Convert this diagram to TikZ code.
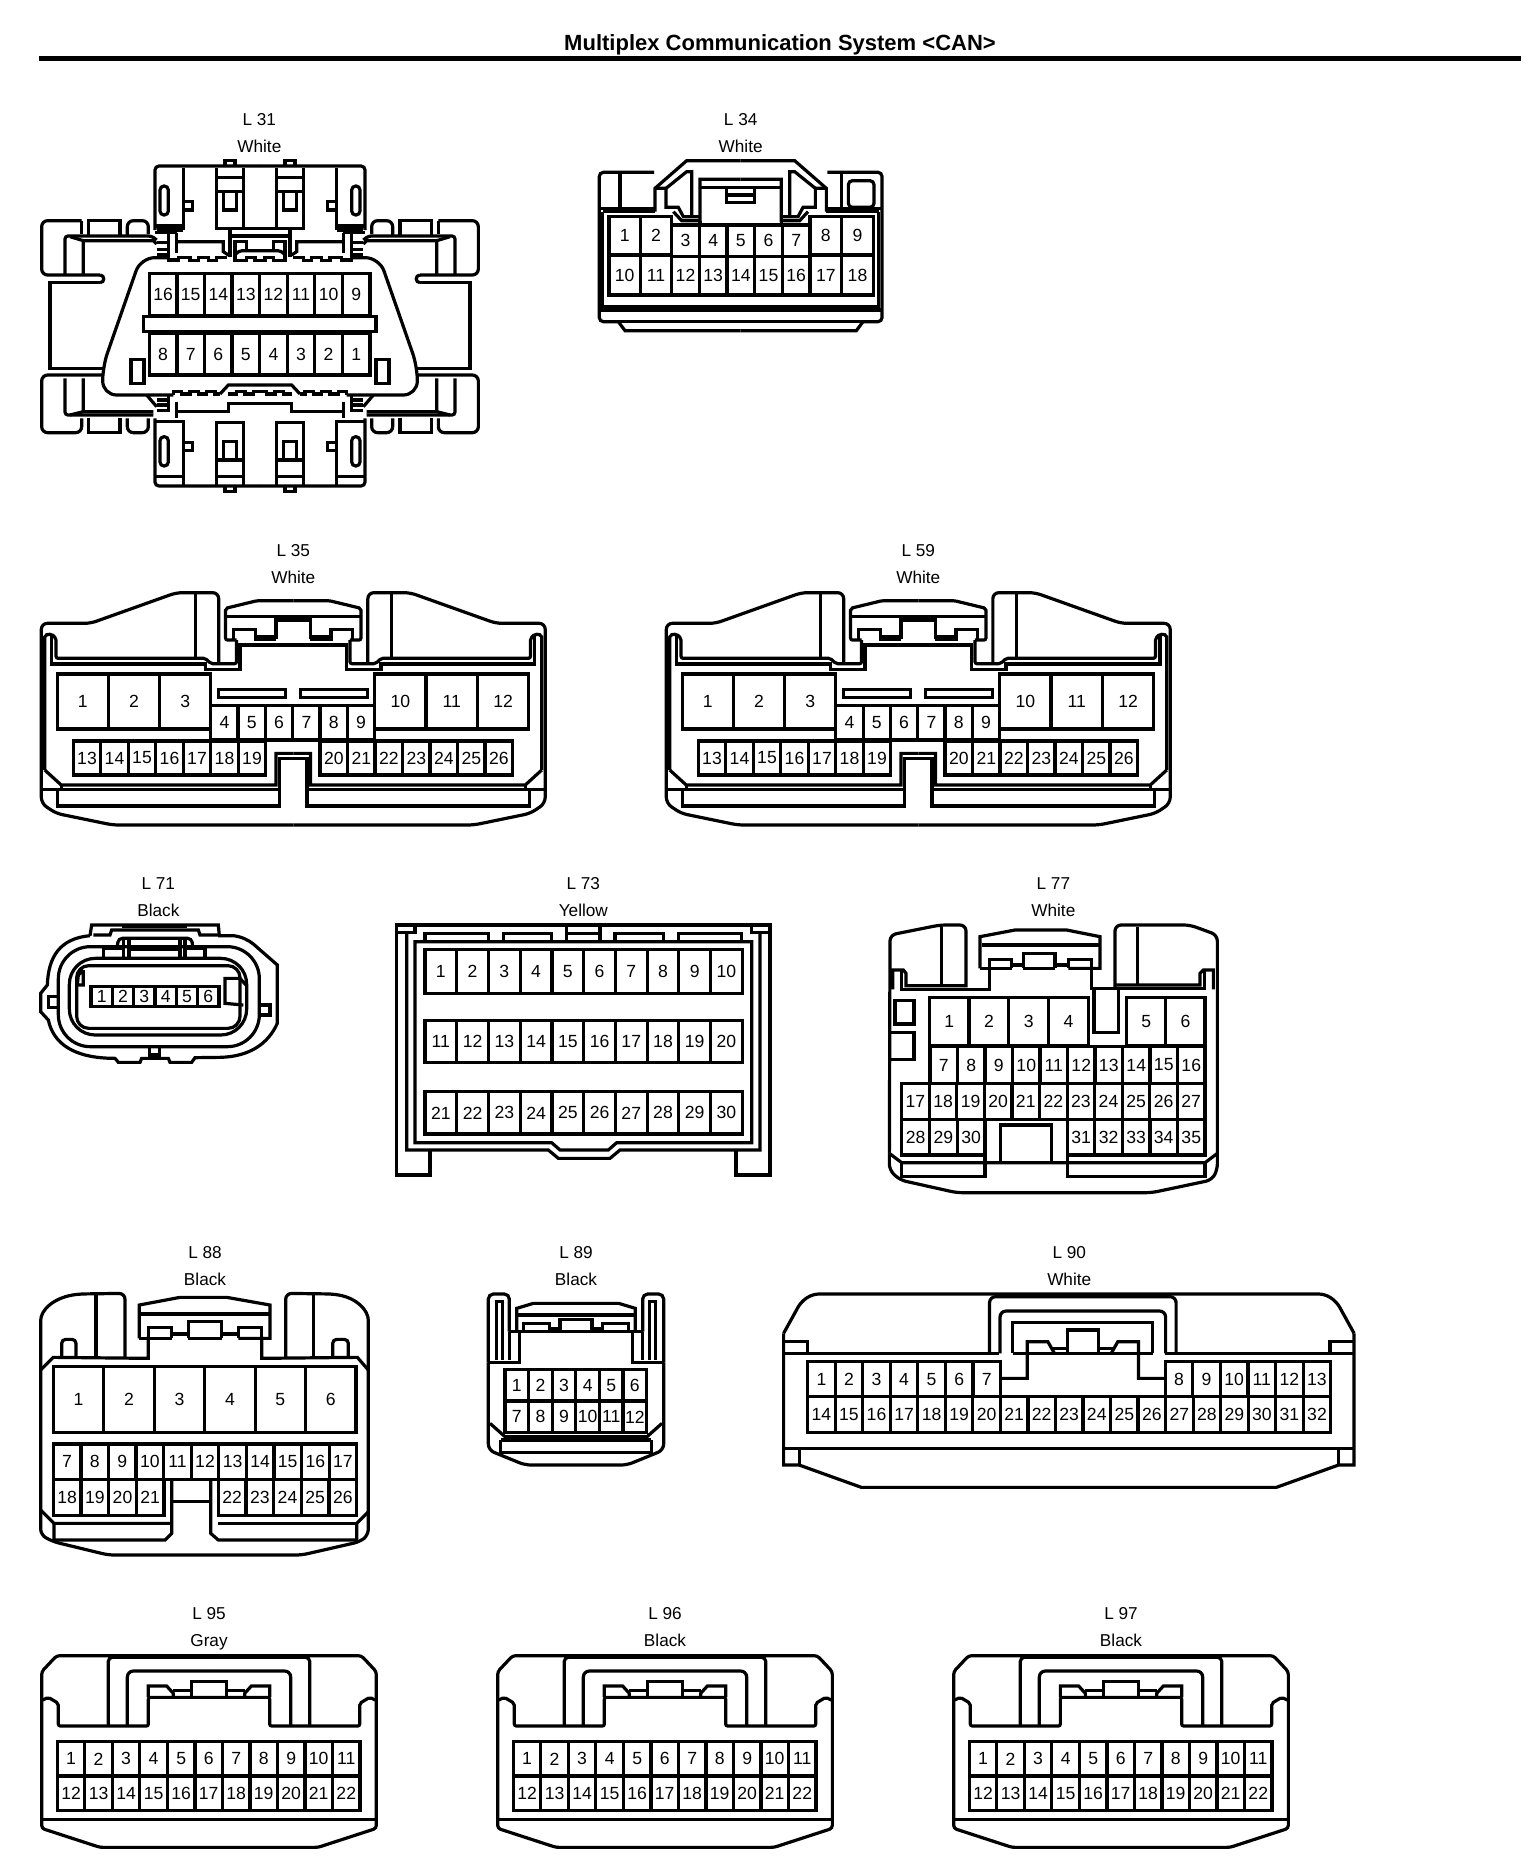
\documentclass[tikz,border=0pt]{standalone}
\usepackage{fontspec}
\setmainfont{Liberation Sans}
\def\zxu{0.166667}
\newenvironment{zoomat}[3][0.166667]{\def\zxu{#1}\begin{scope}[shift={(#2*0.5pt,-#3*0.5pt)},x=#1pt,y=-0.166667pt]}{\end{scope}}
\newcommand{\mirrored}[2]{#2\begin{scope}[x=-\zxu pt,xshift={#1*2*\zxu pt}]#2\end{scope}}
\tikzset{
  pinbox/.style={draw,line width=1.6pt,inner sep=0pt,outer sep=0pt,font=\fontsize{8.8}{10}\selectfont},
  lab/.style={inner sep=0pt,anchor=base,font=\fontsize{8.6}{10}\selectfont},
  ttl/.style={inner sep=0pt,anchor=base,font=\bfseries\fontsize{11}{12}\selectfont}
}
\newcommand{\pinrow}[7]{%
  \pgfmathtruncatemacro{\pnn}{abs(#7-#6)}%
  \pgfmathtruncatemacro{\psg}{#7>=#6 ? 1 : -1}%
  \pgfmathsetmacro{\pdx}{(#3-#2)/(\pnn+1)}%
  \foreach \pk in {0,...,\pnn}{%
    \pgfmathtruncatemacro{\plab}{#6+\psg*\pk}%
    \pgfmathsetmacro{\pcx}{#2+(\pk+0.5)*\pdx}%
    \node[pinbox,minimum width={\pdx*\zxu pt},minimum height={(#5-#4)*0.166667pt}] (#1\plab) at ({\pcx},{(#4+#5)/2}) {\plab};
  }}
\newcommand{\tag}[6]{\node[lab] (#1a) at (#3,#4+18) {#2};\node[lab] (#1b) at (#3,#5+18) {#6};}
% wide connector L35 / L59
\newcommand{\wideconn}[3]{%
\begin{zoomat}[0.17186]{#1}{540}
 \tag{#2}{#3}{795}{30}{112}{White}
 \mirrored{795}{
  \draw[rounded corners=3pt] (795,855) -- (270,855) -- (105,820) -- (62,790) -- (62,250) -- (205,250) -- (455,158) -- (578,158) -- (578,370);
  \draw (510,160) -- (510,352);
  \draw[rounded corners=1pt] (72,690) -- (72,285) -- (92,282) -- (105,295) -- (105,355) -- (540,355) -- (555,371) -- (630,371) -- (630,300);
  \draw (92,285) -- (92,372) -- (540,372) -- (540,388) -- (640,388) -- (640,315) -- (795,315);
  \draw[rounded corners=1pt] (630,300) -- (598,300) -- (598,205) -- (690,182) -- (795,182);
  \draw (598,230) -- (795,230);
  \draw (622,298) -- (622,268) -- (685,268) -- (685,298) -- (745,298);
  \draw (685,290) -- (745,290);
  \draw (745,298) -- (745,240) -- (795,240);
  \draw (72,690) -- (120,735) -- (745,735) -- (745,640) -- (795,640);
  \draw (62,748) -- (755,748);
  \draw (108,748) -- (108,798) -- (755,798) -- (755,655) -- (795,655);
  \draw (120,735) -- (120,748);
 }
 \draw (577,448) rectangle (772,472);
 \draw (817,448) rectangle (1010,472);
 \pinrow{#2-}{108}{555}{402}{567}{1}{3}
 \pinrow{#2-}{1032}{1480}{402}{567}{10}{12}
 \pinrow{#2-}{555}{1032}{497}{600}{4}{9}
 \pinrow{#2-}{155}{715}{603}{705}{13}{19}
 \pinrow{#2-}{873}{1433}{603}{705}{20}{26}
\end{zoomat}}
% L95 family
\newcommand{\flatconn}[4]{%
\begin{zoomat}{#1}{1600}
 \tag{#2}{#3}{567}{40}{122}{#4}
 \mirrored{567}{
  \draw[rounded corners=1.5pt] (567,742) -- (240,742) -- (65,685) -- (65,215) -- (110,167) -- (567,167);
  \draw[rounded corners=1pt] (68,300) -- (85,292) -- (115,310) -- (115,378) -- (385,378) -- (385,292) -- (567,292);
  \draw[rounded corners=2pt] (265,378) -- (265,172) -- (567,172);
  \draw[rounded corners=3pt] (322,378) -- (322,213) -- (567,213);
  \draw (385,292) -- (385,258) -- (440,258) -- (460,280) -- (460,292);
  \draw (460,272) -- (515,272);
  \draw (515,292) -- (515,245) -- (567,245);
  \draw (65,658) -- (567,658);
 }
 \pinrow{#2-}{112}{1020}{425}{528}{1}{11}
 \pinrow{#2-}{112}{1020}{528}{632}{12}{22}
\end{zoomat}}
\begin{document}
\begin{tikzpicture}[line width=1.6pt,line join=miter]
\useasboundingbox (0,0) rectangle (768pt,-937pt);
\node[ttl] (title) at (390pt,-25.35pt) {Multiplex Communication System <CAN>};
\coordinate (ruleL) at (19.3pt,-29.25pt);
\coordinate (ruleR) at (760.5pt,-29.25pt);
\draw[line width=2.5pt] (ruleL) -- (ruleR);

% ---------- L31
\begin{zoomat}{20}{90}
 \tag{L31}{L 31}{718}{87}{168}{White}
 \mirrored{720}{
  % top shell
  \draw[rounded corners=2pt] (405,420) -- (405,228) -- (720,228);
  \draw (615,228) -- (615,212) -- (645,212) -- (645,228);
  \draw (490,235) -- (490,420) (405,408) -- (490,408) (412,420) -- (490,420);
  \draw (590,235) -- (590,415) -- (720,415);
  \draw (670,235) -- (670,415);
  \draw (590,262) -- (670,262) (590,305) -- (670,305);
  \draw (610,305) -- (610,360) -- (650,360) -- (650,305);
  \draw[rounded corners=2pt] (420,288) rectangle (445,375);
  \draw (490,335) -- (518,335) -- (518,360) -- (490,360);
  % left pod top
  \draw[rounded corners=3pt] (185,392) -- (65,392) -- (65,555) -- (240,555);
  \draw (240,555) .. controls (255,555) and (255,578) .. (240,578);
  \draw (240,578) -- (90,578) -- (90,835) -- (248,835);
  \draw (185,392) -- (185,432);
  \draw (205,435) -- (205,392) -- (300,392) -- (300,435);
  \draw[rounded corners=3pt] (322,435) -- (322,392) -- (385,392) -- (385,432);
  \draw[rounded corners=1.5pt] (135,555) -- (135,438) -- (395,438) -- (410,450);
  \draw (190,555) -- (190,452) -- (400,452) -- (410,462);
  \draw (150,440) -- (190,452);
  % pod bottom
  \draw[rounded corners=3pt] (248,855) -- (65,855) -- (65,1028) -- (185,1028) -- (185,985);
  \draw (205,985) -- (205,1028) -- (300,1028) -- (300,985);
  \draw[rounded corners=3pt] (322,985) -- (322,1028) -- (385,1028) -- (385,985);
  \draw[rounded corners=1.5pt] (135,865) -- (135,975) -- (400,975);
  \draw (190,865) -- (190,965) -- (400,965) (150,975) -- (190,965);
  % top junction
  \draw (470,428) -- (470,490) (405,428) -- (470,428);
  \draw (410,458) -- (445,458) (410,478) -- (445,478) (410,495) -- (445,495);
  \draw (445,428) -- (445,510) -- (475,510) -- (475,503) -- (510,503) -- (510,512) -- (535,512) -- (535,503) -- (565,503) -- (565,512) -- (590,512) -- (590,503) -- (622,503);
  \draw (470,455) -- (610,455) -- (610,485) -- (625,495);
  \draw (630,415) -- (630,500);
  \draw (630,438) -- (720,438);
  \draw (645,515) -- (645,455) -- (680,455) -- (680,482);
  \draw[rounded corners=2pt] (645,495) -- (655,482) -- (720,482);
  \draw (645,512) -- (680,512) -- (680,503) -- (705,503) -- (705,512) -- (720,512);
  % housing
  \draw[rounded corners=7pt] (445,503) -- (362,503) -- (248,830) -- (248,915) -- (460,915);
  \draw (333,808) rectangle (372,880);
  % bottom crenellation
  \draw (460,915) -- (460,905) -- (485,905) -- (485,912) -- (510,912) -- (510,905) -- (535,905) -- (535,912) -- (560,912) -- (560,905) -- (585,905) -- (585,912) -- (600,912);
  \draw (600,912) -- (625,885) -- (720,885);
  \draw (625,912) -- (650,912) -- (650,905) -- (675,905) -- (675,912) -- (700,912) -- (700,905) -- (720,905);
  \draw (380,915) -- (410,950);
  \draw (410,930) -- (445,930) (410,945) -- (445,945) (410,962) -- (445,962);
  \draw (445,915) -- (445,965);
  \draw (470,935) -- (470,985);
  \draw (470,965) -- (625,965) -- (625,940) -- (720,940);
  % bottom shell
  \draw[rounded corners=2pt] (405,985) -- (405,1188) -- (720,1188);
  \draw (405,995) -- (490,995) -- (490,1185) (405,1160) -- (490,1160);
  \draw (590,1185) -- (590,997) -- (670,997) -- (670,1185);
  \draw (590,1110) -- (670,1110) (590,1160) -- (670,1160);
  \draw (610,1110) -- (610,1055) -- (650,1055) -- (650,1110);
  \draw[rounded corners=2pt] (420,1040) rectangle (445,1128);
  \draw (490,1058) -- (518,1058) -- (518,1082) -- (490,1082);
  \draw (615,1188) -- (615,1205) -- (645,1205) -- (645,1188);
 }
 \draw (370,680) rectangle (1068,725);
 \pinrow{L31-}{388}{1050}{550}{678}{16}{9}
 \pinrow{L31-}{388}{1050}{730}{855}{8}{1}
\end{zoomat}

% ---------- L34
\begin{zoomat}{580}{90}
 \tag{L34}{L 34}{482}{88}{168}{White}
 \mirrored{482}{
  \draw[rounded corners=2pt] (222,247) -- (58,247) -- (58,695) -- (115,695);
  \draw (115,695) -- (135,722) -- (482,722);
  \draw (58,660) -- (482,660) (115,695) -- (482,695);
  \draw (58,355) -- (225,355) (68,365) -- (68,650) -- (482,650);
  \draw (68,365) -- (225,365);
  \draw (225,365) -- (225,295) -- (320,212) -- (482,212);
  \draw (258,295) -- (320,245) -- (335,245) -- (335,380);
  \draw (225,295) -- (258,295) -- (258,352) -- (295,352) -- (310,380) -- (360,380);
  \draw (280,365) -- (305,392) -- (360,392) -- (360,268) -- (482,268);
  \draw (360,292) -- (482,292);
  \draw (440,295) -- (440,338) -- (482,338) (440,315) -- (482,315);
  \draw (360,392) -- (360,405);
 }
 \draw (120,250) -- (120,355) (785,250) -- (785,355);
 \draw[rounded corners=2pt] (805,272) rectangle (882,352);
 \pinrow{L34-}{87}{275}{380}{495}{1}{2}
 \pinrow{L34-}{275}{690}{405}{500}{3}{7}
 \pinrow{L34-}{690}{880}{380}{495}{8}{9}
 \pinrow{L34-}{87}{275}{495}{615}{10}{11}
 \pinrow{L34-}{275}{690}{500}{615}{12}{16}
 \pinrow{L34-}{690}{880}{495}{615}{17}{18}
\end{zoomat}

\wideconn{20}{L35}{L 35}
\wideconn{645}{L59}{L 59}

% ---------- L71
\begin{zoomat}{20}{870}
 \tag{L71}{L 71}{415}{40}{122}{Black}
 \draw (210,197) -- (215,165) -- (595,165) -- (598,197) -- (640,197) .. controls (665,200) and (685,210) .. (700,222) -- (772,285) -- (772,460) .. controls (745,520) and (690,560) .. (600,562) -- (525,563) -- (515,577) -- (450,577) -- (445,565) -- (365,565) -- (360,577) -- (295,577) -- (285,565) .. controls (160,565) and (100,520) .. (85,450) -- (62,425) -- (62,370) -- (82,345) .. controls (85,260) and (120,205) .. (210,197);
 \draw (220,195) -- (270,195) -- (275,180) -- (535,180) -- (540,195) -- (595,195);
 \draw[line width=1pt] (305,172) -- (500,172);
 \draw[rounded corners=16pt] (115,230) rectangle (718,530);
 \draw[rounded corners=13pt] (148,265) rectangle (680,495);
 \draw[rounded corners=6pt] (170,287) rectangle (660,475);
 \draw[rounded corners=2pt] (292,230) -- (295,205) -- (515,205) -- (518,230);
 \draw (310,210) -- (310,262) (327,210) -- (327,262) (480,210) -- (480,262) (495,210) -- (495,262);
 \draw (327,238) -- (480,238);
 \draw (250,262) -- (250,235) -- (310,235) (495,235) -- (555,235) -- (555,262);
 \draw (85,380) rectangle (115,412);
 \draw (718,405) -- (750,405) -- (750,435) -- (715,435);
 \draw (660,325) -- (615,325) -- (615,400) -- (670,405);
 \draw (660,325) -- (678,345);
 \draw (190,300) -- (175,315) -- (172,345) -- (190,345) -- (190,300);
 \draw (388,530) -- (388,555) -- (418,555) -- (418,530);
 \pinrow{L71-}{213}{597}{350}{410}{1}{6}
\end{zoomat}

% ---------- L73
\begin{zoomat}{380}{870}
 \tag{L73}{L 73}{610}{40}{122}{Yellow}
 \draw (150,840) -- (150,915) -- (50,915) -- (50,165) -- (1170,165) -- (1170,915) -- (1068,915) -- (1068,840);
 \draw (80,190) -- (80,840) -- (505,840) -- (535,865) -- (690,865) -- (720,840) -- (1140,840) -- (1140,190);
 \draw (50,187) -- (105,187) -- (105,170) (1115,170) -- (1115,187) -- (1170,187);
 \draw (105,215) -- (105,818) -- (515,818) -- (540,840) -- (685,840) -- (710,818) -- (1115,818) -- (1115,215) -- cycle;
 \draw (135,215) -- (135,190) -- (325,190) -- (325,215);
 \draw (370,215) -- (370,190) -- (515,190) -- (515,215);
 \draw (560,170) -- (560,212) (660,170) -- (660,212) (560,190) -- (660,190);
 \draw (705,215) -- (705,190) -- (850,190) -- (850,215);
 \draw (895,215) -- (895,190) -- (1085,190) -- (1085,215);
 \pinrow{L73-}{135}{1087}{238}{370}{1}{10}
 \pinrow{L73-}{135}{1087}{452}{578}{11}{20}
 \pinrow{L73-}{135}{1087}{665}{792}{21}{30}
\end{zoomat}

% ---------- L77
\begin{zoomat}{870}{870}
 \tag{L77}{L 77}{550}{40}{122}{White}
 \draw[rounded corners=3pt] (288,352) -- (288,165) -- (210,165) -- (60,195) -- (58,900) -- (90,930) -- (260,968) -- (845,968) -- (1025,930) -- (1042,900) -- (1042,195) -- (960,165) -- (735,165) -- (735,352);
 \draw (215,170) -- (215,350) (802,170) -- (802,345);
 \draw (68,358) -- (68,300) -- (100,300) -- (108,310) -- (108,347) -- (285,347);
 \draw (95,300) -- (95,358) -- (358,358) -- (358,295);
 \draw (1030,358) -- (1030,300) -- (1000,300) -- (990,310) -- (990,345) -- (735,345);
 \draw (1003,300) -- (1003,355) -- (665,355) -- (665,295);
 \draw (330,295) -- (330,200) -- (435,180) -- (590,180) -- (690,200) -- (690,295) -- (595,295);
 \draw (335,225) -- (690,225);
 \draw (330,295) -- (425,295) (460,295) -- (555,295);
 \draw (358,295) -- (358,268) -- (425,268) -- (425,295);
 \draw (460,295) -- (460,250) -- (555,250) -- (555,295);
 \draw (595,295) -- (595,268) -- (665,268) -- (665,295);
 \draw (425,285) -- (460,285) (555,285) -- (595,285);
 \draw (672,355) -- (672,487) -- (745,487) -- (745,355);
 \draw (75,392) rectangle (132,462);
 \draw (62,488) -- (132,488) -- (132,568) -- (62,568);
 \draw (392,875) -- (392,765) -- (545,765) -- (545,875);
 \draw (58,850) -- (95,878) -- (1005,878) -- (1042,850);
 \draw (95,878) -- (95,920) -- (345,920) -- (345,855);
 \draw (592,855) -- (592,920) -- (1005,920) -- (1005,878);
 \pinrow{L77-}{178}{655}{383}{528}{1}{4}
 \pinrow{L77-}{770}{1005}{383}{528}{5}{6}
 \pinrow{L77-}{180}{1005}{530}{640}{7}{16}
 \pinrow{L77-}{95}{1005}{640}{748}{17}{27}
 \pinrow{L77-}{95}{345}{748}{855}{28}{30}
 \pinrow{L77-}{592}{1005}{748}{855}{31}{35}
\end{zoomat}

% ---------- L88
\begin{zoomat}{20}{1240}
 \tag{L88}{L 88}{555}{38}{118}{Black}
 \draw[rounded corners=3pt] (315,352) -- (315,160) -- (175,162) .. controls (100,175) and (62,210) .. (62,260) -- (62,885) -- (100,905) -- (265,945) -- (845,945) -- (1020,905) -- (1045,885) -- (1045,260) .. controls (1045,210) and (1010,175) .. (940,162) -- (797,160) -- (797,352);
 \draw (228,165) -- (228,350) (880,165) -- (880,350);
 \draw (62,390) -- (100,352) -- (385,355) -- (385,290);
 \draw (725,290) -- (725,355) -- (1012,352) -- (1045,390);
 \draw[rounded corners=2pt] (125,352) -- (125,298) -- (168,298) -- (168,352);
 \draw[rounded corners=2pt] (938,352) -- (938,298) -- (985,298) -- (985,352);
 \draw (358,295) -- (358,195) -- (480,172) -- (620,172) -- (750,195) -- (750,295) -- (655,295);
 \draw (358,222) -- (750,222);
 \draw (358,295) -- (455,295) (505,295) -- (605,295);
 \draw (385,295) -- (385,262) -- (455,262) -- (455,295);
 \draw (505,295) -- (505,245) -- (605,245) -- (605,295);
 \draw (655,295) -- (655,262) -- (725,262) -- (725,295);
 \draw (455,282) -- (505,282) (605,282) -- (655,282);
 \draw (62,810) -- (102,850) -- (455,850);
 \draw (102,850) -- (102,900) -- (435,900) -- (455,880) -- (455,718);
 \draw (455,785) -- (572,785);
 \draw (572,718) -- (572,880) -- (595,900) -- (1010,900) -- (1010,850) -- (1045,815);
 \draw (595,850) -- (1010,850);
 \pinrow{L88-}{100}{1008}{380}{577}{1}{6}
 \pinrow{L88-}{100}{1010}{612}{718}{7}{17}
 \pinrow{L88-}{100}{432}{718}{826}{18}{21}
 \pinrow{L88-}{595}{1010}{718}{826}{22}{26}
\end{zoomat}

% ---------- L89
\begin{zoomat}{470}{1240}
 \tag{L89}{L 89}{318}{38}{118}{Black}
 \mirrored{318}{
  \draw[rounded corners=2.5pt] (55,368) -- (55,162) -- (118,162) -- (118,275);
  \draw (118,275) -- (118,360);
  \draw (80,360) -- (80,185) -- (97,185) -- (97,360);
  \draw (55,368) -- (148,368) -- (148,275) -- (318,275);
  \draw (118,275) -- (148,275);
  \draw (140,272) -- (140,205) -- (190,190) -- (318,190);
  \draw (140,225) -- (318,225);
  \draw (160,272) -- (160,250) -- (238,250) -- (238,272);
  \draw (238,265) -- (270,265);
  \draw (270,272) -- (270,238) -- (318,238);
  \draw[rounded corners=3pt] (55,368) -- (55,630) -- (165,675) -- (318,675);
  \draw (60,550) -- (105,590) -- (318,590);
  \draw (92,600) -- (318,600);
  \draw (92,600) -- (92,638) -- (318,638);
 }
 \pinrow{L89-}{105}{530}{388}{483}{1}{6}
 \pinrow{L89-}{105}{530}{483}{578}{7}{12}
\end{zoomat}

% ---------- L90
\begin{zoomat}[0.1943]{770}{1240}
 \tag{L90}{L 90}{770}{38}{118}{White}
 \mirrored{769}{
  \draw[rounded corners=3pt] (769,162) -- (110,162) -- (80,185) -- (35,280);
  \draw (35,280) -- (35,675) -- (75,675) -- (235,742) -- (769,742);
  \draw (35,305) -- (97,305) -- (97,340);
  \draw (35,625) -- (769,625) (75,625) -- (75,675);
 }
 \draw (35,340) -- (590,340) (1017,340) -- (1503,340);
 \mirrored{805}{
  \draw[rounded corners=3pt] (565,340) -- (565,170) -- (805,170);
  \draw[rounded corners=3pt] (592,340) -- (592,213) -- (805,213);
  \draw (625,340) -- (625,247) -- (805,247);
  \draw (625,340) -- (805,340);
  \draw (593,415) -- (662,415) -- (662,305) -- (715,305) -- (732,340);
  \draw (725,325) -- (765,325);
  \draw (765,340) -- (765,270) -- (805,270);
 }
 \pinrow{L90-}{97}{593}{365}{470}{1}{7}
 \pinrow{L90-}{1017}{1443}{365}{470}{8}{13}
 \pinrow{L90-}{97}{1443}{470}{577}{14}{32}
\end{zoomat}

\flatconn{20}{L95}{L 95}{Gray}
\flatconn{476}{L96}{L 96}{Black}
\flatconn{932}{L97}{L 97}{Black}
\end{tikzpicture}
\end{document}
